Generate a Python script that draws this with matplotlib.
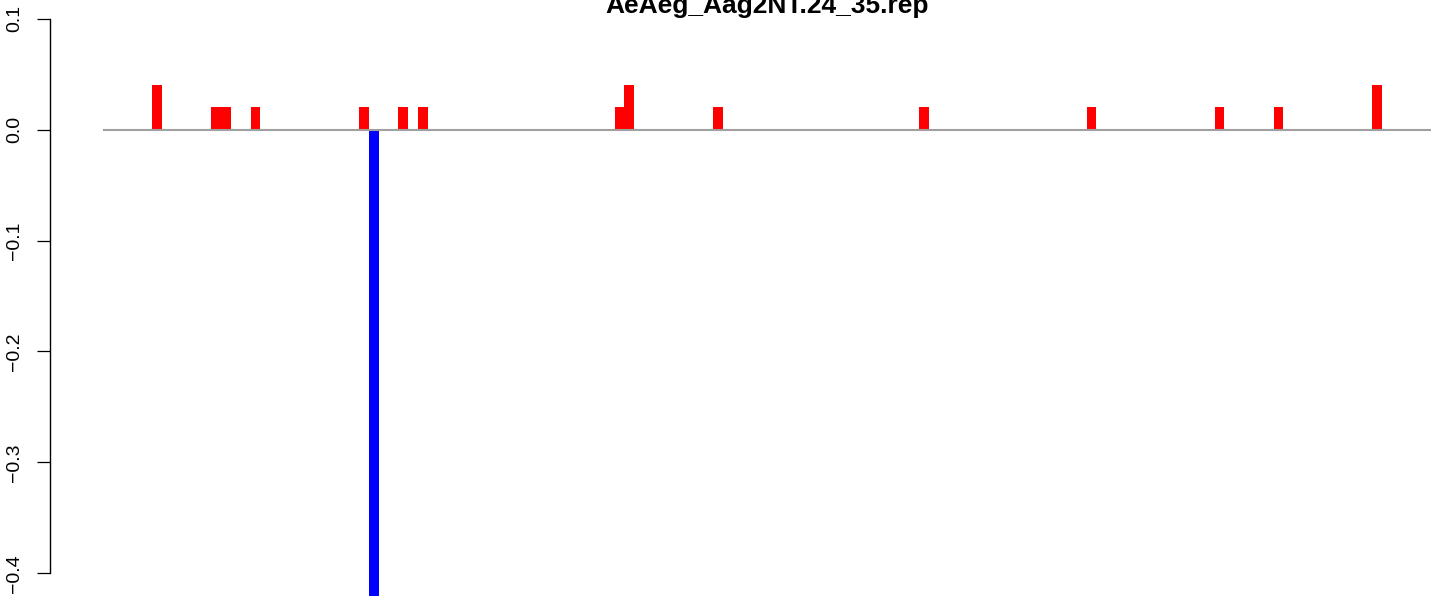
# Bar plot of per-bin scores (red = positive, blue = negative)
import matplotlib
matplotlib.use("Agg")
import matplotlib.pyplot as plt
import numpy as np

plt.rcParams['font.family'] = ['Liberation Sans', 'DejaVu Sans']

title = "AeAeg_Aag2NT.24_35.rep"

# Data: number of bins and the non-zero ones
n_bins = 135
bin_index = [5, 11, 12, 15, 26, 27, 30, 32, 52, 53, 62, 83, 100, 113, 119, 129]
bin_value = [0.04, 0.02, 0.02, 0.02, 0.02, -0.44, 0.02, 0.02, 0.02, 0.04,
             0.02, 0.02, 0.02, 0.02, 0.02, 0.04]
y_ticks = [-0.4, -0.3, -0.2, -0.1, 0.0, 0.1]

values = np.zeros(n_bins)
values[bin_index] = bin_value
colors = ['red' if v >= 0 else 'blue' for v in values]

W, H = 1441, 596
fig = plt.figure(figsize=(W / 100, H / 100), dpi=100)
# plot region runs past the right edge, like the cropped original
ax = fig.add_axes([50 / W, 0, 1434 / W, 1])

ax.bar(np.arange(n_bins) + 0.5, values, width=1.0, color=colors,
       edgecolor='none', linewidth=0)
ax.hlines(0, 0, n_bins, color='#a0a0a0', linewidth=1.5, zorder=3)

ax.set_xlim(-5.4, 140.4)
ax.set_ylim(-0.4203, 0.1167)

# R style axis: only the left one, spanning the ticks
for side in ['top', 'right', 'bottom']:
    ax.spines[side].set_visible(False)
ax.spines['left'].set_bounds(-0.4, 0.1)
ax.spines['left'].set_linewidth(1.0)
ax.set_xticks([])
ax.set_yticks(y_ticks)
ax.set_yticklabels([f"{t:.1f}".replace('-', '\u2212') for t in y_ticks],
                   rotation=90, va='center', fontsize=14)
ax.tick_params(axis='y', length=9.4, width=0.9, pad=10)

fig.text(767 / W, 1 - 13 / H, title, ha='center', va='baseline',
         fontsize=19, fontweight='bold')

fig.savefig('out.png', dpi=100)
